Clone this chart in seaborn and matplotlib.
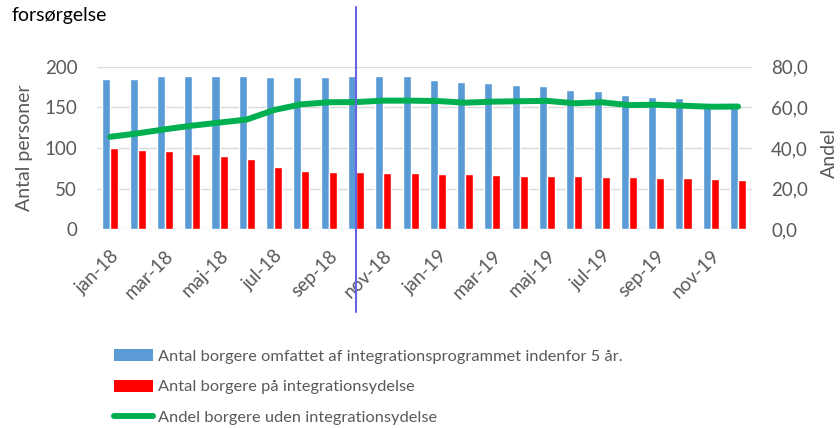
import numpy as np
import pandas as pd
import matplotlib
matplotlib.use("Agg")
import matplotlib.pyplot as plt
import seaborn as sns
from matplotlib.patches import Patch
from matplotlib.lines import Line2D

# ---- data ----
months = ["jan-18", "feb-18", "mar-18", "apr-18", "maj-18", "jun-18",
          "jul-18", "aug-18", "sep-18", "okt-18", "nov-18", "dec-18",
          "jan-19", "feb-19", "mar-19", "apr-19", "maj-19", "jun-19",
          "jul-19", "aug-19", "sep-19", "okt-19", "nov-19", "dec-19"]
total = [185, 185, 188, 189, 189, 189, 187, 187, 187, 188, 188, 188,
         184, 181, 180, 178, 176, 171, 170, 165, 163, 161, 155, 154]
ydelse = [100, 98, 96, 93, 90, 87, 77, 72, 70, 70, 69, 69,
          68, 68, 67, 66, 65, 65, 64, 64, 63, 63, 62, 61]
share = [45.5, 47.2, 49.2, 51.0, 52.5, 54.0, 58.7, 61.5, 62.5, 62.6, 63.3, 63.3,
         63.1, 62.3, 62.8, 63.0, 63.2, 62.0, 62.5, 61.1, 61.3, 60.8, 60.3, 60.4]
shown_ticks = ["jan-18", "mar-18", "maj-18", "jul-18", "sep-18", "nov-18",
               "jan-19", "mar-19", "maj-19", "jul-19", "sep-19", "nov-19"]
marker_month = "okt-18"

s_total = "Antal borgere omfattet af integrationsprogrammet indenfor 5 år."
s_ydelse = "Antal borgere på integrationsydelse"
s_share = "Andel borgere uden integrationsydelse"

c_blue = "#5b9bd5"
c_red = "#ff0000"
c_green = "#00b050"
c_text = "#595959"
c_grid = "#d9d9d9"

sns.set_theme(style="white")
plt.rcParams["font.family"] = ["Lato", "DejaVu Sans"]

df = pd.DataFrame({
    "month": months * 2,
    "value": total + ydelse,
    "serie": [s_total] * len(months) + [s_ydelse] * len(months),
})

W, H = 840, 428
fig = plt.figure(figsize=(W / 100, H / 100), dpi=100)
x0, x1 = 96.7, 751.7
y0, y1 = 229.3, 66.7
ax = fig.add_axes([x0 / W, 1 - y0 / H, (x1 - x0) / W, (y0 - y1) / H])

sns.barplot(data=df, x="month", y="value", hue="serie", order=months,
            hue_order=[s_total, s_ydelse], palette=[c_blue, c_red],
            width=0.59, saturation=1, legend=False, ax=ax, zorder=2)

ax.set_ylim(0, 200)
ax.set_yticks([0, 50, 100, 150, 200])
ax.set_xlim(-0.5, len(months) - 0.5)
ax.grid(axis="y", color=c_grid, lw=1.0, zorder=0)
ax.set_axisbelow(True)
for sp in ax.spines.values():
    sp.set_visible(False)
ax.tick_params(axis="both", length=0, colors=c_text, labelsize=13.5)
ax.tick_params(axis="y", pad=14)
ticks_idx = [months.index(m) for m in shown_ticks]
ax.set_xticks(ticks_idx)
ax.set_xticklabels(shown_ticks, rotation=45, ha="right", rotation_mode="anchor")
ax.tick_params(axis="x", pad=13)
ax.set_xlabel("")
ax.set_ylabel("Antal personer", color=c_text, fontsize=14)
ax.yaxis.set_label_coords((33 - x0) / (x1 - x0), 0.5)

ax2 = ax.twinx()
pos = np.arange(len(months))
sns.lineplot(x=pos, y=share, ax=ax2, color=c_green, lw=4.3,
             solid_capstyle="round", zorder=3)
ax2.set_ylim(0, 80)
ax2.set_yticks([0, 20, 40, 60, 80])
ax2.set_yticklabels([f"{v:.1f}".replace(".", ",") for v in [0, 20, 40, 60, 80]])
for sp in ax2.spines.values():
    sp.set_visible(False)
ax2.tick_params(axis="y", length=0, colors=c_text, labelsize=13.5, pad=14)
ax2.set_ylabel("Andel", color=c_text, fontsize=14)
ax2.yaxis.set_label_coords((821 - x0) / (x1 - x0), 0.47)
ax2.set_xlim(-0.5, len(months) - 0.5)

# vertical marker line
hpx = y0 - y1
ax2.axvline(months.index(marker_month), ymin=(y0 - 311.7) / hpx, ymax=(y0 - 7) / hpx,
            color="#6464e6", lw=1.5, clip_on=False, zorder=5)

# title fragment
fig.text(11 / W, 1 - 21 / H, "forsørgelse", color="black", fontsize=14, va="baseline")

handles = [Patch(facecolor=c_blue, edgecolor="none"),
           Patch(facecolor=c_red, edgecolor="none"),
           Line2D([0], [0], color=c_green, lw=4.3, solid_capstyle="round")]
leg = fig.legend(handles, [s_total, s_ydelse, s_share], loc="upper left",
                 bbox_to_anchor=(114 / W, 1 - 349 / H), frameon=False,
                 prop={"family": ["Lato"], "size": 11.8},
                 labelcolor=c_text, handlelength=2.4,
                 handleheight=0.75, handletextpad=0.3, labelspacing=0.98,
                 borderpad=0, borderaxespad=0)

fig.savefig("out.png", dpi=100)
